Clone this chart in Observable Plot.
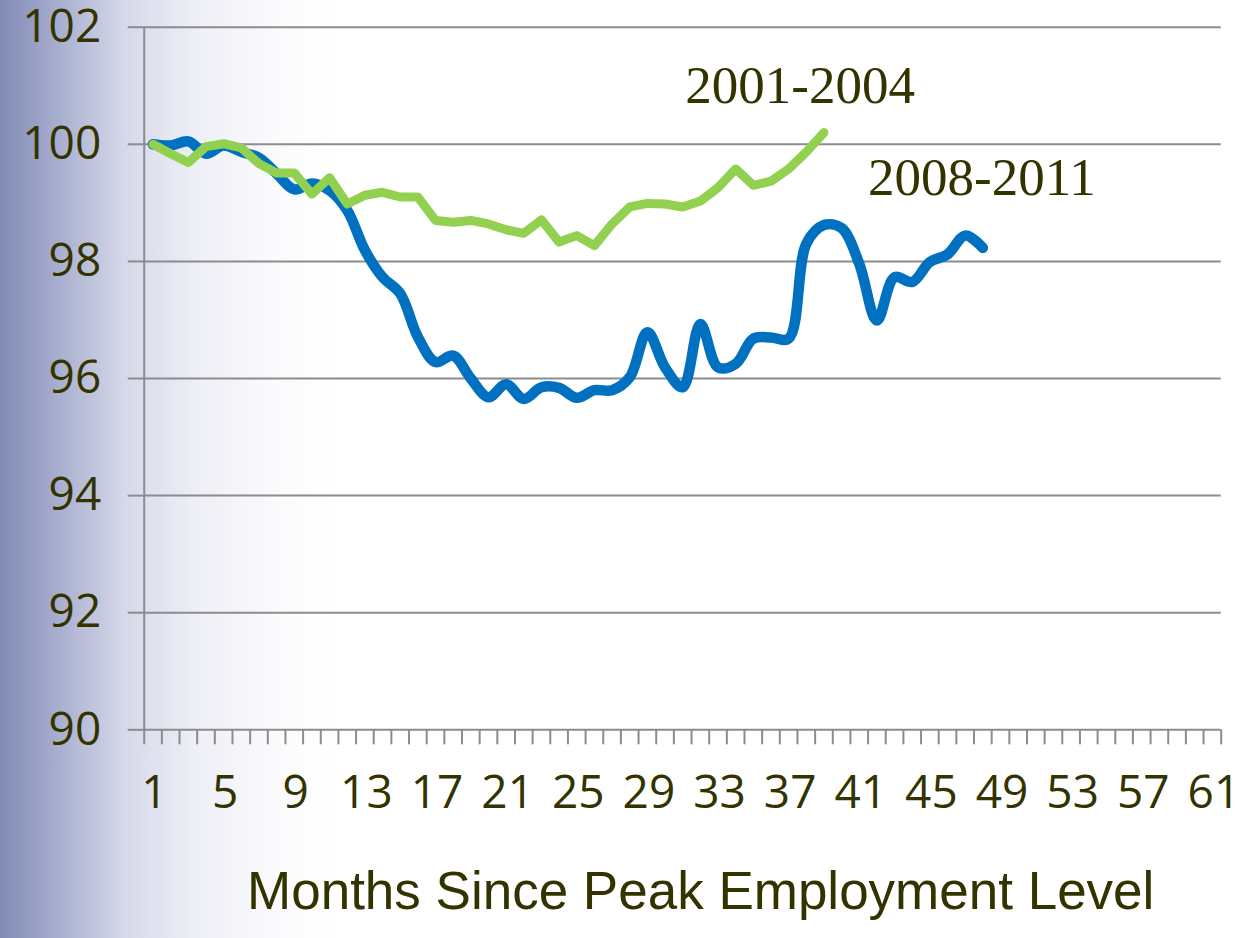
<!DOCTYPE html>
<html><head><meta charset="utf-8">
<script src="https://cdn.jsdelivr.net/npm/d3@7"></script>
<script src="https://cdn.jsdelivr.net/npm/@observablehq/plot@0.6"></script>
<style>
html,body{margin:0;padding:0;}
body{width:1240px;height:938px;overflow:hidden;background:linear-gradient(to right,#828ab6 0px,#a9afcf 60px,#d6d9ea 125px,#eff0f7 200px,#fbfbfd 280px,#ffffff 340px);}
#chart svg{display:block;}
</style></head><body><div id="chart"></div>
<script>
// Employment index (peak = 100), by month since peak employment level
const series2001 = [100.0, 99.84, 99.69, 99.96, 100.01, 99.94, 99.67, 99.51, 99.51, 99.15,
  99.43, 98.98, 99.13, 99.18, 99.10, 99.10, 98.70, 98.67, 98.70, 98.64,
  98.54, 98.48, 98.71, 98.33, 98.44, 98.27, 98.64, 98.93, 98.99, 98.98,
  98.93, 99.03, 99.26, 99.58, 99.30, 99.37, 99.58, 99.87, 100.20];
const series2008 = [100.0, 99.98, 100.05, 99.84, 99.98, 99.87, 99.77, 99.50, 99.23, 99.33,
  99.21, 98.87, 98.19, 97.73, 97.45, 96.71, 96.28, 96.39, 96.00, 95.68,
  95.90, 95.65, 95.85, 95.84, 95.67, 95.80, 95.80, 96.02, 96.79, 96.19,
  95.85, 96.93, 96.19, 96.25, 96.68, 96.70, 96.68, 98.30, 98.62, 98.57,
  97.96, 96.99, 97.73, 97.65, 97.99, 98.12, 98.44, 98.23];
const xTickLabels = [1, 5, 9, 13, 17, 21, 25, 29, 33, 37, 41, 45, 49, 53, 57, 61];
const yTicks = [90, 92, 94, 96, 98, 100, 102];
const seriesLabels = [
  {text: "2001-2004", month: 31.15, value: 101.0},
  {text: "2008-2011", month: 41.5, value: 99.42}
];
const axisTitle = "Months Since Peak Employment Level";

const rows2001 = series2001.map((v, i) => ({month: i + 1, value: v}));
const rows2008 = series2008.map((v, i) => ({month: i + 1, value: v}));
const monthCount = 61;
const bandEdges = d3.range(0, monthCount + 1).map(i => i + 0.5);

const textColor = "#333300";
const gridColor = "#8c8c8c";
const tickFont = "'Open Sans', sans-serif";

const chart = Plot.plot({
  width: 1240,
  height: 938,
  marginLeft: 143.7,
  marginRight: 19.3,
  marginTop: 26.7,
  marginBottom: 208.7,
  style: {background: "transparent", overflow: "visible"},
  x: {type: "linear", domain: [0.5, monthCount + 0.5], axis: null},
  y: {domain: [90, 102], axis: null},
  marks: [
    Plot.ruleY(yTicks, {stroke: gridColor, strokeWidth: 2}),
    Plot.axisY({ticks: yTicks, tickSize: 16, tickFormat: () => "", label: null, stroke: gridColor, strokeWidth: 2}),
    Plot.axisY({ticks: yTicks, tickSize: 0, tickPadding: 43, label: null, fontSize: 46, letterSpacing: 4, fontFamily: tickFont, fill: textColor, stroke: "none"}),
    Plot.ruleX([0.5], {stroke: gridColor, strokeWidth: 2}),
    Plot.axisX({ticks: bandEdges, tickSize: 15, tickFormat: () => "", label: null, stroke: gridColor, strokeWidth: 2}),
    Plot.axisX({ticks: xTickLabels, tickSize: 0, tickPadding: 46, label: null, fontSize: 46, letterSpacing: 3, dx: 1.5, fontFamily: tickFont, fill: textColor, stroke: "none"}),
    Plot.lineY(rows2008, {x: "month", y: "value", stroke: "#0070c0", strokeWidth: 10.5, curve: "catmull-rom", strokeLinecap: "round", strokeLinejoin: "round"}),
    Plot.lineY(rows2001, {x: "month", y: "value", stroke: "#92d050", strokeWidth: 9, strokeLinecap: "round", strokeLinejoin: "round"}),
    Plot.text(seriesLabels, {x: "month", y: "value", text: "text", textAnchor: "start", fontSize: 53, fontFamily: "'Liberation Serif', 'Times New Roman', serif", fill: textColor}),
    Plot.text([axisTitle], {frameAnchor: "bottom", dx: 18, dy: 179, fontSize: 53, fontFamily: "'Liberation Sans', Arial, sans-serif", fill: textColor})
  ]
});
document.getElementById("chart").appendChild(chart);
</script>
</body></html>
